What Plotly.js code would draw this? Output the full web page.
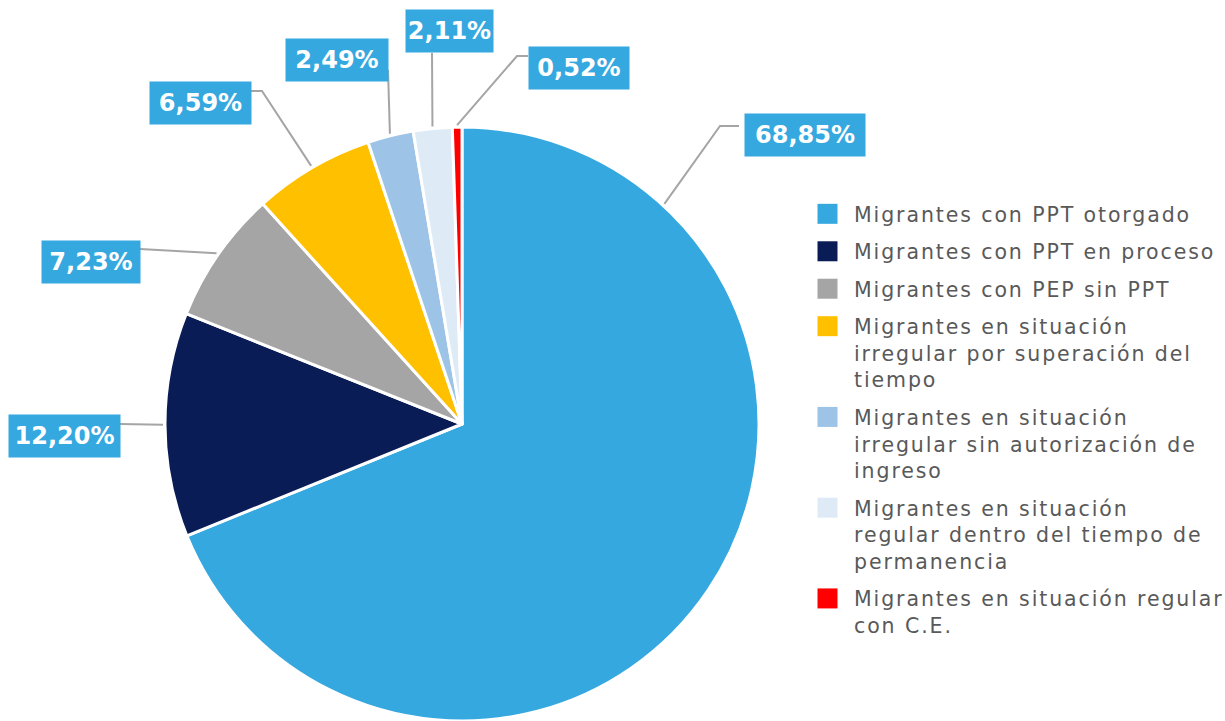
<!DOCTYPE html>
<html>
<head>
<meta charset="utf-8">
<script src="https://cdn.plot.ly/plotly-3.0.1.min.js"></script>
<style>
html,body{margin:0;padding:0;background:#fff;}
#chart{width:1225px;height:721px;}
#chart .legend .legendtext{letter-spacing:1.9px;}
</style>
</head>
<body>
<div id="chart"></div>
<script>
// ---- data ----
const categories = [
  "Migrantes con PPT otorgado",
  "Migrantes con PPT en proceso",
  "Migrantes con PEP sin PPT",
  "Migrantes en situación<br>irregular por superación del<br>tiempo",
  "Migrantes en situación<br>irregular sin autorización de<br>ingreso",
  "Migrantes en situación<br>regular dentro del tiempo de<br>permanencia",
  "Migrantes en situación regular<br>con C.E."
];
const values = [68.85, 12.20, 7.23, 6.59, 2.49, 2.11, 0.52];
const valueLabels = ["68,85%", "12,20%", "7,23%", "6,59%", "2,49%", "2,11%", "0,52%"];
const colors = ["#35A8E0", "#0A1C56", "#A5A5A5", "#FFC000", "#9DC3E6", "#DEEBF7", "#FF0000"];

// ---- layout constants (pixels) ----
const W = 1225, H = 721;
const cx = 462, cy = 424, R = 297;
// label boxes: center, width
const boxes = [
  {x: 805, y: 135, w: 120}, {x: 64.5, y: 436.5, w: 111}, {x: 91, y: 262, w: 98},
  {x: 200.5, y: 103.5, w: 101}, {x: 337, y: 60, w: 102}, {x: 449.5, y: 31.5, w: 87},
  {x: 579, y: 68.5, w: 100}
];
// leader attach points on boxes and optional elbows
const attach = [
  {x: 739, y: 126, ex: 720}, {x: 120, y: 424}, {x: 140, y: 249},
  {x: 251, y: 91, ex: 262}, {x: 388, y: 70}, {x: 432, y: 53},
  {x: 528, y: 56, ex: 517}
];

const px = v => v / W;
const py = v => 1 - v / H;

const total = values.reduce((a, b) => a + b, 0);
let cum = 0;
const shapes = [], annotations = [];
values.forEach((v, i) => {
  const a0 = cum / total * 2 * Math.PI;
  cum += v;
  const a1 = cum / total * 2 * Math.PI;
  let ang = (a0 + a1) / 2;
  const at = attach[i];
  const ex = at.ex !== undefined ? at.ex : at.x;
  if (a1 - a0 > Math.PI / 2) {
    let t = Math.atan2(ex - cx, cy - at.y) + 0.03;
    if (t < 0) t += 2 * Math.PI;
    ang = Math.min(Math.max(t, a0), a1);
  }
  const sx = cx + (R + 2) * Math.sin(ang), sy = cy - (R + 2) * Math.cos(ang);
  let path = `M${px(sx)},${py(sy)} L${px(ex)},${py(at.y)}`;
  if (at.ex !== undefined) path += ` L${px(at.x)},${py(at.y)}`;
  shapes.push({type: 'path', xref: 'paper', yref: 'paper', path: path,
    line: {color: '#A5A5A5', width: 2}});
  const b = boxes[i];
  annotations.push({
    xref: 'paper', yref: 'paper', x: px(b.x), y: py(b.y),
    xanchor: 'center', yanchor: 'middle', showarrow: false,
    text: '<b>' + valueLabels[i] + '</b>',
    font: {family: 'DejaVu Sans', size: 24, color: '#ffffff'},
    bgcolor: '#35A8E0', borderpad: 0, width: b.w, height: 42, align: 'center', valign: 'middle'
  });
});

const trace = {
  type: 'pie',
  labels: categories,
  values: values,
  sort: false,
  direction: 'clockwise',
  rotation: 0,
  textinfo: 'none',
  hoverinfo: 'label+percent',
  marker: {colors: colors, line: {color: '#ffffff', width: 3}},
  domain: {x: [(cx - R) / W, (cx + R) / W], y: [(H - cy - R) / H, (H - cy + R) / H]}
};

const layout = {
  width: W, height: H,
  margin: {l: 0, r: 0, t: 0, b: 0},
  paper_bgcolor: '#ffffff',
  showlegend: true,
  legend: {
    x: 801 / W, y: py(194), xanchor: 'left', yanchor: 'top', valign: 'top',
    font: {family: 'DejaVu Sans', size: 20.5, color: '#595959'},
    itemwidth: 43, bgcolor: 'rgba(0,0,0,0)'
  },
  shapes: shapes,
  annotations: annotations
};

Plotly.newPlot('chart', [trace], layout, {displayModeBar: false, staticPlot: true}).then(gd => {
  gd.querySelectorAll('.legend [clip-path]').forEach(el => el.removeAttribute('clip-path'));
  gd.querySelectorAll('.legend .legendpoints path').forEach(p => {
    p.setAttribute('d', 'M10,10H-10V-10H10Z');
    p.style.strokeWidth = '0';
  });
  gd.querySelectorAll('.legend g.traces').forEach((g, i) => {
    const m = /translate\(([-\d.]+),\s*([-\d.]+)\)/.exec(g.getAttribute('transform') || '');
    if (m) g.setAttribute('transform', `translate(${m[1]},${parseFloat(m[2]) + i * 7.8})`);
  });
});
</script>
</body>
</html>
